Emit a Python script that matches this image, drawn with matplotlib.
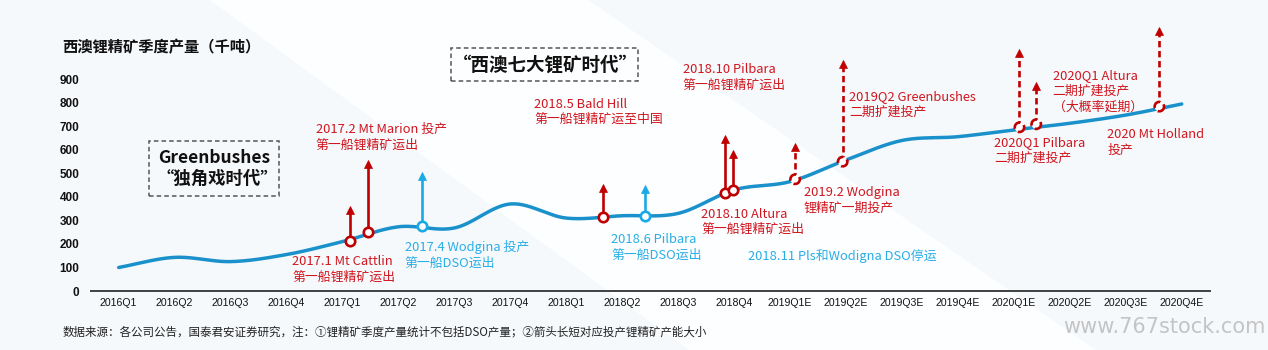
import numpy as np
import matplotlib
matplotlib.use("Agg")
import matplotlib.pyplot as plt
from matplotlib.patches import Rectangle, Polygon

# ---------------- data ----------------
quarters = ["2016Q1", "2016Q2", "2016Q3", "2016Q4", "2017Q1", "2017Q2", "2017Q3", "2017Q4",
            "2018Q1", "2018Q2", "2018Q3", "2018Q4", "2019Q1E", "2019Q2E", "2019Q3E", "2019Q4E",
            "2020Q1E", "2020Q2E", "2020Q3E", "2020Q4E"]
production = [100, 143, 125, 155, 210, 273, 268, 370, 310, 320, 330, 430,
              465, 557, 640, 656, 685, 713, 748, 795]
yticks = [0, 100, 200, 300, 400, 500, 600, 700, 800, 900]

# events: position on quarter axis, production at that point, arrow top (capacity cue)
event_pos  = [4.13, 4.45, 5.42, 8.65, 9.41, 10.84, 10.98, 12.09, 12.94, 16.10, 16.40, 18.60]
event_base = [214, 250, 276, 316, 319, 415, 429, 475, 550, 696, 709, 784]
event_top  = [365, 560, 507, 455, 451, 666, 602, 630, 985, 1032, 890, 1124]
event_kind = ["red", "red", "blue", "red", "blue", "red", "red",
              "redplan", "redplan", "redplan", "redplan", "redplan"]

title = "西澳锂精矿季度产量（千吨）"
footer = "数据来源：各公司公告，国泰君安证券研究，注：①锂精矿季度产量统计不包括DSO产量；②箭头长短对应投产锂精矿产能大小"
watermark = "www.767stock.com"

# annotation texts (color, lines)
notes = [
    ("red",  ["2017.1 Mt Cattlin", "第一船锂精矿运出"]),
    ("red",  ["2017.2 Mt Marion 投产", "第一船锂精矿运出"]),
    ("blue", ["2017.4 Wodgina 投产", "第一船DSO运出"]),
    ("red",  ["2018.5 Bald Hill", "第一船锂精矿运至中国"]),
    ("blue", ["2018.6 Pilbara", "第一船DSO运出"]),
    ("red",  ["2018.10 Altura", "第一船锂精矿运出"]),
    ("red",  ["2018.10 Pilbara", "第一船锂精矿运出"]),
    ("blue", ["2018.11 Pls和Wodigna DSO停运"]),
    ("red",  ["2019.2 Wodgina", "锂精矿一期投产"]),
    ("red",  ["2019Q2 Greenbushes", "二期扩建投产"]),
    ("red",  ["2020Q1 Pilbara", "二期扩建投产"]),
    ("red",  ["2020Q1 Altura", "二期扩建投产", "（大概率延期）"]),
    ("red",  ["2020 Mt Holland", "投产"]),
]
# layout of annotations (pixel left x, first line center y)
note_xy = [(292.3, 261.7), (315.7, 129.3), (404.7, 247.3), (534.3, 104.0), (611.3, 239.3),
           (701.0, 214.0), (682.7, 69.3), (748.3, 255.7), (804.0, 192.3), (849.3, 96.3),
           (994.3, 142.3), (1052.7, 75.3), (1107.3, 135.0)]

# ---------------- style ----------------
W, H = 1268, 350
CJK = ["Noto Sans CJK SC", "DejaVu Sans"]
LINE_BLUE = "#1b91cc"
ARROW_RED = "#c00000"
ARROW_BLUE = "#1aa9e4"
TEXT_RED = "#d0161e"
TEXT_BLUE = "#2aaee6"

plt.rcParams["font.family"] = CJK

fig = plt.figure(figsize=(W / 100, H / 100), dpi=100)
fig.patch.set_facecolor("#f6f9fc")

def fx(px):
    return px / W

def fy(py):
    return 1 - py / H

# subtle background band
band = Polygon([(fx(210), fy(0)), (fx(588), fy(0)), (fx(1096), fy(350)), (fx(689), fy(350))],
               closed=True, transform=fig.transFigure, facecolor="#fdfeff", edgecolor="none", zorder=0)
fig.add_artist(band)

ax = fig.add_axes([fx(90.7), fy(291), fx(1209.7) - fx(90.7), (291 - 15.8) / H])
ax.set_facecolor("none")
ax.set_xlim(-0.5, 19.5)
ax.set_ylim(0, 1170)

# smooth curve (Catmull-Rom / Hermite through the data points)
y = np.array(production, dtype=float)
n = len(y)
tang = np.zeros(n)
tang[0] = y[1] - y[0]
tang[-1] = y[-1] - y[-2]
tang[1:-1] = (y[2:] - y[:-2]) / 2
xs, ys = [], []
t = np.linspace(0, 1, 30)
for i in range(n - 1):
    h00 = 2 * t**3 - 3 * t**2 + 1
    h10 = t**3 - 2 * t**2 + t
    h01 = -2 * t**3 + 3 * t**2
    h11 = t**3 - t**2
    xs.extend(i + t)
    ys.extend(h00 * y[i] + h10 * tang[i] + h01 * y[i + 1] + h11 * tang[i + 1])
ax.plot(xs, ys, color=LINE_BLUE, lw=2.5, solid_capstyle="round", zorder=2)

# arrows and markers
head_off = 4.4 / 0.2352  # half arrow-head height in data units
for xp, b, tp, k in zip(event_pos, event_base, event_top, event_kind):
    col = ARROW_BLUE if k == "blue" else ARROW_RED
    dashed = (k == "redplan")
    if dashed:
        ax.plot([xp, xp], [b, tp - head_off], color=col, lw=1.9, dashes=(2.4, 1.4), zorder=3)
    else:
        ax.plot([xp, xp], [b, tp - head_off], color=col, lw=1.9, zorder=3)
    ax.plot([xp], [tp - head_off], marker="^", ms=6.4, color=col, mec=col, mew=0.5, zorder=3)
    ax.scatter([xp], [b], s=46, facecolor="white", edgecolor=col, linewidths=1.9,
               linestyles="--" if dashed else "-", zorder=4)

# axes styling
for s in ["left", "right", "top"]:
    ax.spines[s].set_visible(False)
ax.spines["bottom"].set_color("#404040")
ax.spines["bottom"].set_linewidth(1.4)
ax.set_yticks(yticks)
ax.set_yticklabels([str(v) for v in yticks], fontsize=8.5, fontweight="bold",
                   family=["Liberation Sans", "DejaVu Sans"], color="#111111")
ax.set_xticks(range(n))
ax.set_xticklabels(quarters, fontsize=7.6, family=["Liberation Sans", "DejaVu Sans"], color="#111111")
ax.tick_params(axis="y", length=0, pad=8)
ax.tick_params(axis="x", length=0, pad=5)

# title, footer, watermark
fig.text(fx(62.5), fy(46.7), title, fontsize=11, fontweight="bold", va="center", ha="left",
         color="#111111")
fig.text(fx(63), fy(332), footer, fontsize=8.3, va="center", ha="left", color="#222222")
fig.text(fx(1265), fy(327), watermark, fontsize=15, va="center", ha="right", color="#c4c4c4",
         family=["DejaVu Sans"])

# dashed boxes
for (x0, y0, x1, y1) in [(148.7, 141, 278.7, 195.7), (451, 48.3, 637.7, 81)]:
    fig.add_artist(Rectangle((fx(x0), fy(y1)), fx(x1) - fx(x0), (y1 - y0) / H,
                             transform=fig.transFigure, fill=False, edgecolor="#555555",
                             lw=1.1, ls=(0, (3, 2)), zorder=5))
fig.text(fx(158), fy(157.7), "Greenbushes", fontsize=12.5, fontweight="bold", va="center",
         ha="left", color="#111111")
fig.text(fx(278.5), fy(179), "“独角戏时代”", fontsize=12.5, fontweight="bold", va="center",
         ha="right", color="#111111")
fig.text(fx(637.5), fy(65), "“西澳七大锂矿时代”", fontsize=13.3, fontweight="bold", va="center",
         ha="right", color="#111111")

# annotations
LS = 15.7
for (c, lines), (px, py) in zip(notes, note_xy):
    col = TEXT_RED if c == "red" else TEXT_BLUE
    for j, line in enumerate(lines):
        fig.text(fx(px), fy(py + j * LS), line, fontsize=9.3, va="center", ha="left", color=col)

fig.savefig("out.png", dpi=100, facecolor=fig.get_facecolor())
